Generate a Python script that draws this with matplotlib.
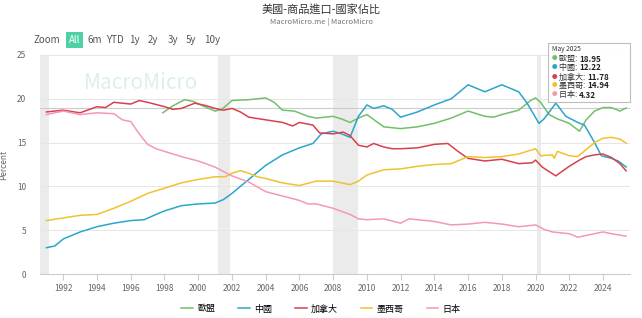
import matplotlib.pyplot as plt

plt.rcParams['font.family'] = ['Noto Sans CJK TC', 'DejaVu Sans']

# Series data (fractional year, percent)
eu_years = [1997.9, 1998.5, 1999.2, 1999.7, 2000.5, 2001.0, 2001.4, 2002.0, 2003.0, 2004.0, 2004.5, 2005.0,
            2005.7, 2006.5, 2007.0, 2008.0, 2008.5, 2009.0, 2009.5, 2010.0, 2011.0, 2012.0, 2013.0, 2014.0,
            2015.0, 2016.0, 2017.0, 2017.5, 2018.0, 2019.0, 2019.7, 2020.0, 2020.3, 2020.8, 2021.3, 2022.0,
            2022.6, 2023.0, 2023.5, 2024.0, 2024.5, 2025.0, 2025.37]
eu_vals = [18.4, 19.2, 19.9, 19.7, 19.0, 18.6, 18.8, 19.8, 19.9, 20.1, 19.6, 18.7,
           18.6, 18.0, 17.8, 18.0, 17.7, 17.3, 17.8, 18.2, 16.8, 16.6, 16.8, 17.2,
           17.8, 18.6, 18.0, 17.9, 18.2, 18.7, 19.8, 20.1, 19.6, 18.2, 17.7, 17.2,
           16.3, 17.6, 18.6, 19.0, 19.0, 18.6, 18.95]

china_years = [1991.0, 1991.5, 1992.0, 1993.0, 1994.0, 1995.0, 1996.0, 1996.8, 1997.5, 1998.0, 1999.0, 2000.0,
               2001.0, 2001.5, 2002.0, 2003.0, 2004.0, 2005.0, 2006.0, 2006.8, 2007.3, 2008.0, 2008.5, 2009.0,
               2009.5, 2010.0, 2010.4, 2011.0, 2011.5, 2012.0, 2013.0, 2014.0, 2015.0, 2015.5, 2016.0, 2016.5,
               2017.0, 2018.0, 2019.0, 2019.5, 2020.2, 2020.5, 2021.2, 2021.8, 2022.5, 2022.9, 2023.5, 2023.9,
               2024.5, 2024.9, 2025.37]
china_vals = [3.0, 3.2, 4.0, 4.8, 5.4, 5.8, 6.1, 6.2, 6.8, 7.2, 7.8, 8.0,
              8.1, 8.5, 9.2, 10.8, 12.4, 13.6, 14.4, 14.9, 16.0, 16.3, 16.0, 15.6,
              18.0, 19.3, 18.9, 19.2, 18.8, 17.9, 18.5, 19.3, 20.0, 20.8, 21.6, 21.2,
              20.8, 21.6, 20.8, 19.5, 17.2, 17.7, 19.5, 18.0, 17.3, 17.0, 15.0, 13.5,
              13.2, 12.9, 12.22]

canada_years = [1991.0, 1992.0, 1993.0, 1994.0, 1994.5, 1995.0, 1996.0, 1996.5, 1997.0, 1998.0, 1998.5, 1999.0,
                1999.8, 2000.5, 2001.0, 2001.5, 2002.0, 2002.5, 2003.0, 2004.0, 2005.0, 2005.6, 2006.0, 2006.8,
                2007.2, 2008.0, 2008.6, 2009.0, 2009.5, 2010.0, 2010.4, 2011.0, 2011.5, 2012.0, 2013.0, 2014.0,
                2014.8, 2015.4, 2016.0, 2017.0, 2018.0, 2019.0, 2019.8, 2020.0, 2020.4, 2021.2, 2022.0, 2022.6,
                2023.0, 2023.5, 2024.0, 2024.5, 2025.0, 2025.37]
canada_vals = [18.5, 18.7, 18.4, 19.1, 19.0, 19.6, 19.4, 19.8, 19.6, 19.1, 18.8, 18.9,
               19.5, 19.2, 18.9, 18.7, 18.9, 18.5, 17.9, 17.6, 17.3, 16.9, 17.3, 17.0,
               16.1, 16.0, 16.2, 15.8, 14.7, 14.5, 14.9, 14.5, 14.3, 14.3, 14.4, 14.8,
               14.9, 14.0, 13.2, 12.9, 13.1, 12.6, 12.7, 13.0, 12.2, 11.2, 12.3, 13.0,
               13.4, 13.6, 13.7, 13.3, 12.6, 11.78]

mexico_years = [1991.0, 1992.0, 1993.0, 1994.0, 1995.0, 1996.0, 1997.0, 1998.0, 1999.0, 2000.0, 2001.0, 2001.6,
                2002.0, 2002.5, 2003.0, 2003.5, 2004.0, 2005.0, 2006.0, 2007.0, 2008.0, 2008.5, 2009.0, 2009.5,
                2010.0, 2011.0, 2012.0, 2013.0, 2014.0, 2015.0, 2015.5, 2016.0, 2017.0, 2018.0, 2019.0, 2020.0,
                2020.3, 2021.0, 2021.1, 2021.3, 2022.0, 2022.5, 2023.0, 2023.5, 2024.0, 2024.5, 2025.0, 2025.37]
mexico_vals = [6.1, 6.4, 6.7, 6.8, 7.5, 8.3, 9.2, 9.8, 10.4, 10.8, 11.1, 11.1,
               11.5, 11.8, 11.5, 11.1, 10.9, 10.4, 10.1, 10.6, 10.6, 10.4, 10.2, 10.6,
               11.3, 11.9, 12.0, 12.3, 12.5, 12.6, 13.0, 13.4, 13.3, 13.4, 13.7, 14.3,
               13.5, 13.6, 13.2, 14.0, 13.5, 13.4, 14.2, 15.0, 15.5, 15.6, 15.4, 14.94]

japan_years = [1991.0, 1992.0, 1993.0, 1994.0, 1995.0, 1995.5, 1996.0, 1996.5, 1997.0, 1997.5, 1998.0, 1999.0,
               2000.0, 2001.0, 2002.0, 2003.0, 2004.0, 2005.0, 2006.0, 2006.5, 2007.0, 2008.0, 2009.0, 2009.5,
               2010.0, 2011.0, 2012.0, 2012.5, 2014.0, 2015.0, 2016.0, 2017.0, 2018.0, 2019.0, 2020.0, 2020.5,
               2021.0, 2022.0, 2022.5, 2023.0, 2024.0, 2024.5, 2025.37]
japan_vals = [18.2, 18.6, 18.2, 18.4, 18.3, 17.6, 17.4, 16.0, 14.8, 14.3, 14.0, 13.4,
              12.9, 12.2, 11.2, 10.5, 9.4, 8.9, 8.4, 8.0, 8.0, 7.5, 6.8, 6.3,
              6.2, 6.3, 5.8, 6.3, 6.0, 5.6, 5.7, 5.9, 5.7, 5.4, 5.6, 5.1,
              4.8, 4.6, 4.2, 4.4, 4.8, 4.6, 4.32]

names = ['歐盟', '中國', '加拿大', '墨西哥', '日本']
colors = ['#72bf6a', '#2ba6cb', '#d8404c', '#f0c22e', '#f29ab2']
last_vals = ['18.95', '12.22', '11.78', '14.94', '4.32']
recessions = [(1990.62, 1991.15), (2001.2, 2001.9), (2008.0, 2009.45), (2020.1, 2020.3)]
year_ticks = list(range(1992, 2025, 2))

fig = plt.figure(figsize=(6.42, 3.18), dpi=100)
ax = fig.add_axes([40 / 642, 1 - 274 / 318, 590 / 642, 219 / 318])

for start, end in recessions:
    ax.axvspan(start, end, color='#ebebeb', lw=0, zorder=0)

series = [(eu_years, eu_vals), (china_years, china_vals), (canada_years, canada_vals),
          (mexico_years, mexico_vals), (japan_years, japan_vals)]
for (xs, ys), name, c in zip(series, names, colors):
    ax.plot(xs, ys, color=c, lw=1.1, label=name, zorder=3)

ax.axhline(18.95, color='#cccccc', lw=0.8, zorder=2)

ax.set_xlim(1990.62, 2025.6)
ax.set_ylim(0, 25)
ax.set_yticks([0, 5, 10, 15, 20, 25])
ax.set_xticks(year_ticks)
ax.grid(axis='y', color='#e6e6e6', lw=0.7)
ax.set_axisbelow(True)
for s in ['top', 'right', 'left']:
    ax.spines[s].set_visible(False)
ax.spines['bottom'].set_color('#cccccc')
ax.tick_params(axis='y', length=0, labelsize=6, labelcolor='#666666', pad=10)
ax.tick_params(axis='x', length=4, color='#cccccc', labelsize=6, labelcolor='#666666', pad=3)
ax.set_ylabel('Percent', fontsize=6, color='#666666', labelpad=6)

# faint source logo text
ax.text(1993.2, 21.8, 'MacroMicro', fontsize=15, color='#d4ece4', alpha=0.8, va='center', zorder=1)

# tooltip
fig.patches.append(plt.Rectangle((548 / 642, 1 - 102 / 318), 82 / 642, 59 / 318, transform=fig.transFigure,
                                 facecolor='white', edgecolor='#bbbbbb', lw=0.8, alpha=0.95, zorder=9))
fig.text(552 / 642, 1 - 45 / 318, 'May 2025', fontsize=4.8, color='#333333', va='top', zorder=10)
renderer = fig.canvas.get_renderer()
for i, (n, v, c) in enumerate(zip(names, last_vals, colors)):
    yy = 1 - (59 + i * 9) / 318
    fig.text(552 / 642, yy, '\u25cf', fontsize=4, color=c, va='center', zorder=10)
    t = fig.text(559 / 642, yy, n + ': ', fontsize=5.8, color='#333333', va='center', zorder=10)
    x_end = t.get_window_extent(renderer).x1
    fig.text(x_end / 642, yy, v, fontsize=5.8, color='#222222',
             fontweight='bold', va='center', zorder=10)

# title and subtitle
fig.text(0.5, 1 - 9 / 318, '美國-商品進口-國家佔比', ha='center', va='center', fontsize=8, color='#333333')
fig.text(0.5, 1 - 22 / 318, 'MacroMicro.me | MacroMicro', ha='center', va='center', fontsize=5.5, color='#777777')

# range selector
fig.text(33 / 642, 1 - 40 / 318, 'Zoom', fontsize=7, color='#555555', va='center')
fig.text(69 / 642, 1 - 40 / 318, 'All', fontsize=7, color='#ffffff', va='center',
         bbox=dict(boxstyle='square,pad=0.3', facecolor='#4fd1a5', edgecolor='none'))
for lbl, xp in zip(['6m', 'YTD', '1y', '2y', '3y', '5y', '10y'], [88, 106, 129, 148, 168, 186, 204]):
    fig.text(xp / 642, 1 - 40 / 318, lbl, fontsize=7, color='#555555', va='center')

fig.legend(loc='center', bbox_to_anchor=(0.5, 1 - 309 / 318), ncol=5, frameon=False, fontsize=6.5,
           handlelength=1.3, columnspacing=2.5, handletextpad=0.5)

fig.savefig('out.png', dpi=100)
